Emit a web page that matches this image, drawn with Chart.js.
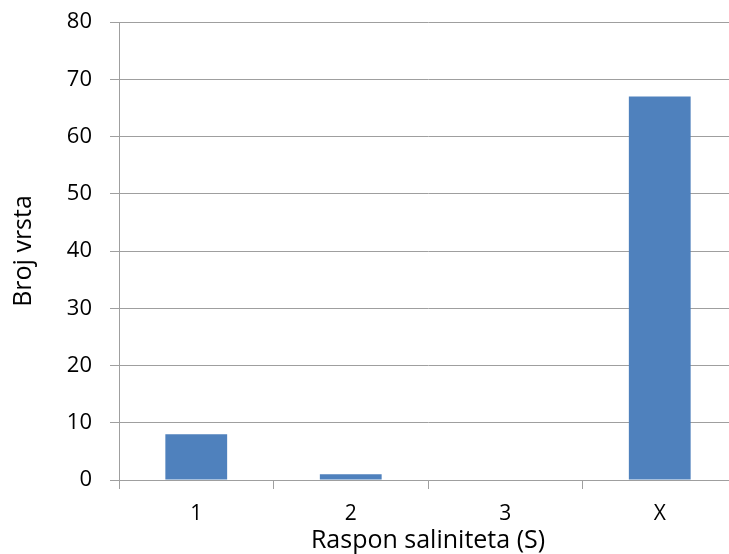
<!DOCTYPE html>
<html>
<head>
<meta charset="utf-8">
<script src="https://cdn.jsdelivr.net/npm/chart.js@4.4.1/dist/chart.umd.min.js"></script>
<style>
  html, body { margin: 0; padding: 0; background: #fff; overflow: hidden; }
  #wrap { width: 729px; height: 554px; overflow: hidden; }
  canvas { display: block; }
</style>
</head>
<body>
<div id="wrap"><canvas id="c" width="740" height="554"></canvas></div>
<script>
const categories = ['1', '2', '3', 'X'];
const speciesCount = [8, 1, 0, 67];
const yMin = 0;
const yMax = 80;
const yStep = 10;
const xTitle = 'Raspon saliniteta (S)';
const yTitle = 'Broj vrsta';

const gridColor = '#9f9f9f';
const fontFamily = '"Open Sans", "DejaVu Sans", sans-serif';

new Chart(document.getElementById('c'), {
  type: 'bar',
  data: {
    labels: categories,
    datasets: [{
      data: speciesCount,
      backgroundColor: '#4F81BD',
      borderWidth: 0,
      barPercentage: 0.4,
      categoryPercentage: 1.0
    }]
  },
  options: {
    responsive: false,
    animation: false,
    layout: { padding: { top: 22, right: 3, left: 0, bottom: 0 } },
    plugins: { legend: { display: false }, tooltip: { enabled: false } },
    scales: {
      x: {
        offset: true,
        grid: { display: true, drawOnChartArea: false, drawTicks: true, tickLength: 9, color: gridColor, offset: true },
        border: { display: true, color: gridColor, width: 1 },
        ticks: { color: '#000', font: { family: fontFamily, size: 21 }, padding: 12, maxRotation: 0 },
        title: { display: true, text: xTitle, color: '#000', font: { family: fontFamily, size: 25 }, padding: { top: 0, bottom: -2 } },
        afterFit: (s) => { s.height = 74; s.paddingLeft = 0; s.paddingRight = 0; }
      },
      y: {
        min: yMin,
        max: yMax,
        ticks: { stepSize: yStep, color: '#000', font: { family: fontFamily, size: 22 }, padding: 18 },
        grid: { color: gridColor, tickLength: 9, lineWidth: 1 },
        border: { display: true, color: gridColor, width: 1 },
        title: { display: true, text: yTitle, color: '#000', font: { family: fontFamily, size: 25 }, padding: { top: 9, bottom: 0 } },
        afterFit: (s) => { s.width = 119; s.paddingTop = 0; s.paddingBottom = 0; }
      }
    }
  }
});
</script>
</body>
</html>
